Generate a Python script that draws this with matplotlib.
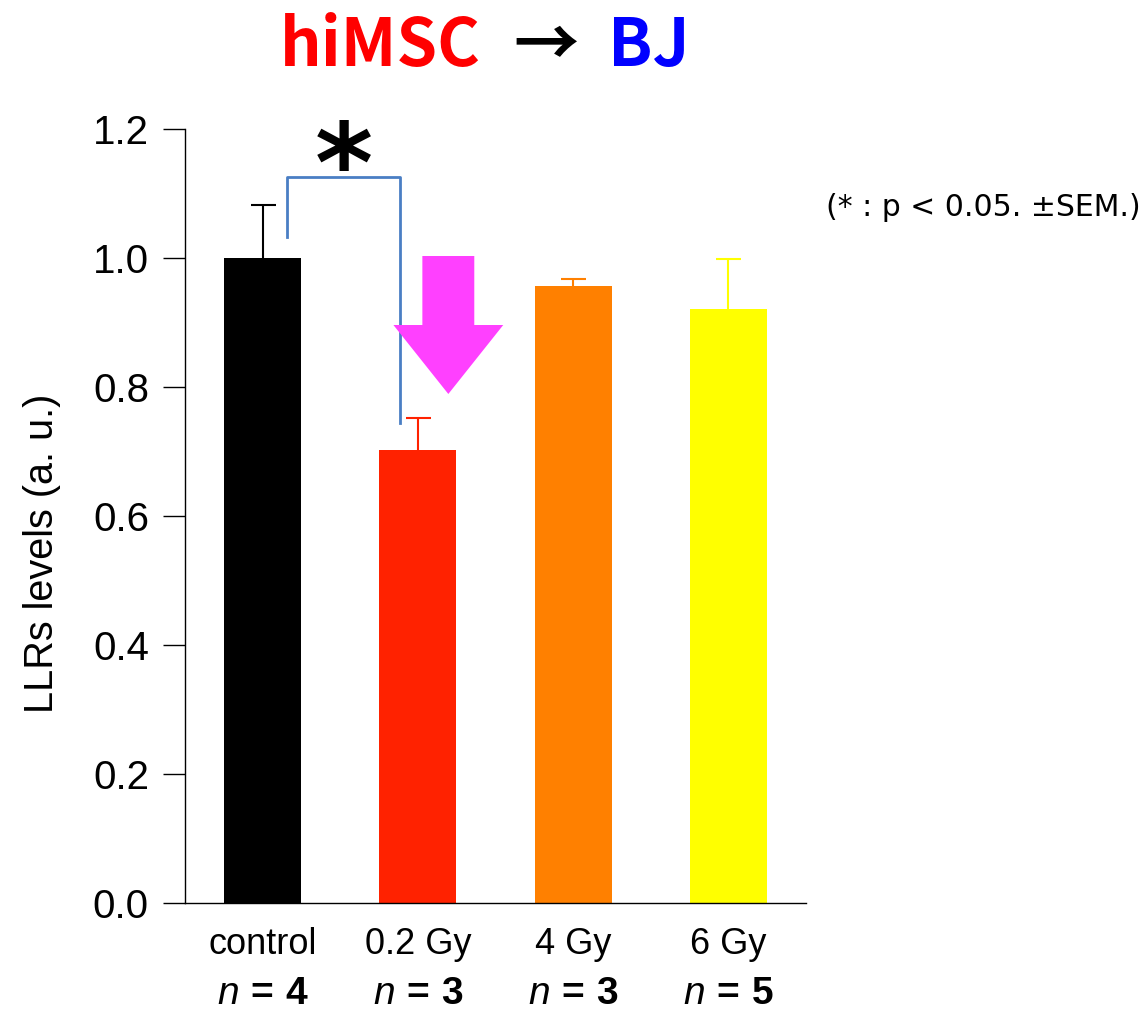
import matplotlib
matplotlib.use("Agg")
import matplotlib.pyplot as plt
from matplotlib.patches import Polygon
import numpy as np

# ---- data ----
categories = ["control", "0.2 Gy", "4 Gy", "6 Gy"]
n_values = [4, 3, 3, 5]
values = [1.0, 0.702, 0.957, 0.921]
sem = [0.082, 0.050, 0.010, 0.077]
colors = ["#000000", "#ff2200", "#ff8000", "#ffff00"]
yticks = [0.0, 0.2, 0.4, 0.6, 0.8, 1.0, 1.2]

plt.rcParams["font.family"] = ["Liberation Sans", "DejaVu Sans"]
plt.rcParams["mathtext.fontset"] = "custom"
plt.rcParams["mathtext.rm"] = "Liberation Sans"
plt.rcParams["mathtext.it"] = "Liberation Sans:italic"
plt.rcParams["mathtext.bf"] = "Liberation Sans:bold"

fig = plt.figure(figsize=(11.47, 10.13), dpi=100)
ax = fig.add_axes([185 / 1147, 1 - 903 / 1013, (806 - 185) / 1147, (903 - 129) / 1013])

x = np.arange(len(categories))
for xi, v, e, c in zip(x, values, sem, colors):
    ax.bar(xi, v, width=0.495, color=c, zorder=2)
    _, caps, _ = ax.errorbar(xi, v, yerr=[[0], [e]], fmt="none", ecolor=c,
                             elinewidth=1.5, capsize=9, capthick=1.5, zorder=1)
    caps[0].set_visible(False)

ax.set_xlim(-0.5, 3.5)
ax.set_ylim(0, 1.2)
ax.set_yticks(yticks)
ax.set_yticklabels([f"{t:.1f}" for t in yticks], fontsize=29)
ax.tick_params(axis="y", length=16, width=1, pad=10, direction="out")
ax.set_xticks([])
for s in ["top", "right"]:
    ax.spines[s].set_visible(False)
ax.spines["left"].set_linewidth(1)
ax.spines["bottom"].set_linewidth(1)

ax.set_ylabel("LLRs levels (a. u.)", fontsize=28.5)
ax.yaxis.set_label_coords(-0.2, 0.452)

# x labels (two rows)
for xi, cat, n in zip(x, categories, n_values):
    ax.annotate(cat, xy=(xi, 0), xycoords="data", xytext=(0, -37),
                textcoords="offset points", ha="center", va="baseline",
                fontsize=26)
    ax.annotate(r"$\mathit{n}\,\mathbf{=}\,\mathbf{" + str(n) + "}$",
                xy=(xi, 0), xycoords="data", xytext=(0, -73),
                textcoords="offset points", ha="center", va="baseline",
                fontsize=28)

# significance bracket
bx = [0.16, 0.16, 0.885, 0.885]
by = [1.033, 1.125, 1.125, 0.744]
ax.plot(bx, by, color="#4a7ec4", lw=2, clip_on=False, zorder=3)
ax.text(0.52, 1.087, "*", fontsize=80, fontweight="bold", family="DejaVu Sans",
        ha="center", va="baseline", clip_on=False)

# magenta arrow (data coords)
def px2d(px, py):
    return ((px - 262) / 155.5, (903 - py) / 645)
arrow_px = [(422, 256), (474, 256), (474, 325), (503, 325), (448, 394),
            (393, 325), (422, 325)]
arrow = Polygon([px2d(*p) for p in arrow_px], closed=True, facecolor="#ff40ff",
                edgecolor="none", zorder=4, clip_on=False)
ax.add_patch(arrow)

# note
fig.text(826 / 1147, 1 - 208 / 1013, "(* : p < 0.05. \u00b1SEM.)", fontsize=21.5,
         family="DejaVu Sans", ha="left", va="center")

# title
tfont = ["Noto Sans CJK JP", "DejaVu Sans"]
ty = 1 - 66 / 1013
fig.text(481 / 1147, ty, "hiMSC", color="#ff0000", fontsize=47, fontweight="bold",
         family=tfont, ha="right", va="baseline")
fig.text(546 / 1147, ty, "\u2192", color="#000000", fontsize=47, fontweight="bold",
         family=tfont, ha="center", va="baseline")
fig.text(608 / 1147, ty, "BJ", color="#0000ff", fontsize=47, fontweight="bold",
         family=tfont, ha="left", va="baseline")

fig.savefig("out.png", dpi=100)
